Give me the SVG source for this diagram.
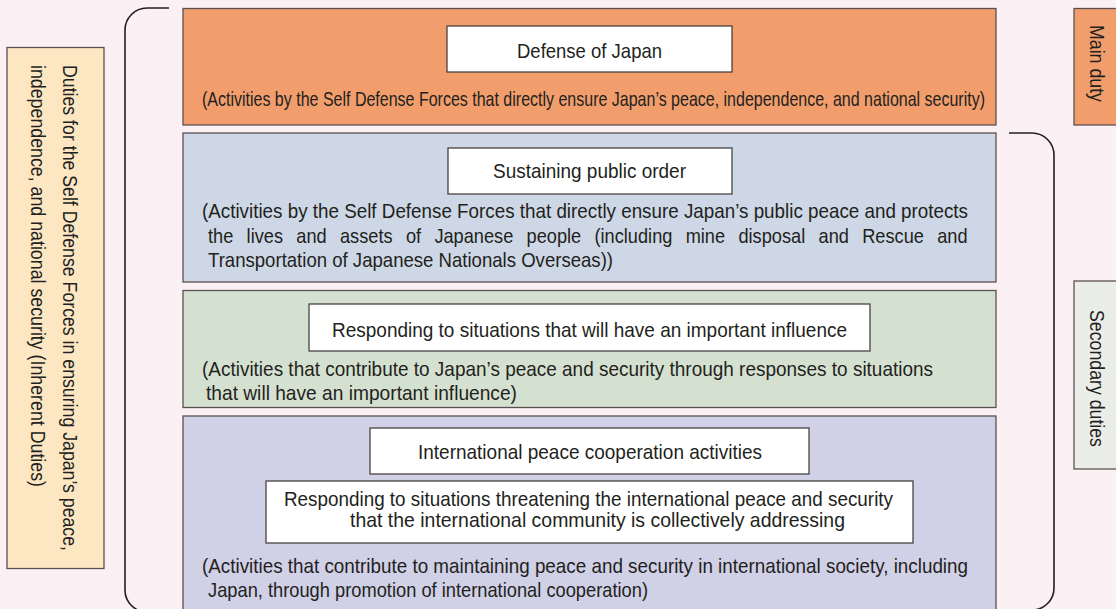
<svg xmlns="http://www.w3.org/2000/svg" width="1116" height="609" viewBox="0 0 1116 609">
<style>
.t{font-family:"Liberation Sans",Arial,sans-serif;font-size:21px;fill:#231f20}
.box{stroke:#5b5152;stroke-width:1.3}
.wb{fill:#ffffff;stroke:#4a4243;stroke-width:1.3}
.br{fill:none;stroke:#231f20;stroke-width:1.6}
</style>
<rect x="0" y="0" width="1116" height="609" fill="#FBF0F4"/>

<g id="inherent-duties">
<rect class="box" x="7" y="47.5" width="97" height="521" fill="#FDE7C3"/>
<text class="t" transform="translate(63,65) rotate(90)" textLength="486" lengthAdjust="spacingAndGlyphs">Duties for the Self Defense Forces in ensuring Japan’s peace,</text>
<text class="t" transform="translate(31,65) rotate(90)" textLength="422" lengthAdjust="spacingAndGlyphs">independence, and national security (Inherent Duties)</text>
</g>

<g id="defense-of-japan">
<rect class="box" x="183" y="8.5" width="813" height="116.5" fill="#F29E6C"/>
<rect class="wb" x="447" y="26" width="285" height="46"/>
<text class="t" x="517" y="58" textLength="145" lengthAdjust="spacingAndGlyphs">Defense of Japan</text>
<text class="t" x="202" y="106" textLength="783" lengthAdjust="spacingAndGlyphs">(Activities by the Self Defense Forces that directly ensure Japan’s peace, independence, and national security)</text>
</g>

<g id="public-order">
<rect class="box" x="183" y="133" width="813" height="149" fill="#CDD7E5"/>
<rect class="wb" x="448" y="148" width="284" height="46"/>
<text class="t" x="493" y="178" textLength="193" lengthAdjust="spacingAndGlyphs">Sustaining public order</text>
<text class="t" x="202" y="218" textLength="766" lengthAdjust="spacingAndGlyphs">(Activities by the Self Defense Forces that directly ensure Japan’s public peace and protects</text>
<text class="t" x="208" y="243" textLength="25.3" lengthAdjust="spacingAndGlyphs">the</text>
<text class="t" x="246.6" y="243" textLength="36.4" lengthAdjust="spacingAndGlyphs">lives</text>
<text class="t" x="296.3" y="243" textLength="30.4" lengthAdjust="spacingAndGlyphs">and</text>
<text class="t" x="340" y="243" textLength="52.6" lengthAdjust="spacingAndGlyphs">assets</text>
<text class="t" x="405.9" y="243" textLength="15.2" lengthAdjust="spacingAndGlyphs">of</text>
<text class="t" x="434.4" y="243" textLength="78.9" lengthAdjust="spacingAndGlyphs">Japanese</text>
<text class="t" x="526.6" y="243" textLength="54.6" lengthAdjust="spacingAndGlyphs">people</text>
<text class="t" x="594.5" y="243" textLength="77.9" lengthAdjust="spacingAndGlyphs">(including</text>
<text class="t" x="685.7" y="243" textLength="39.4" lengthAdjust="spacingAndGlyphs">mine</text>
<text class="t" x="738.4" y="243" textLength="66.8" lengthAdjust="spacingAndGlyphs">disposal</text>
<text class="t" x="818.5" y="243" textLength="30.4" lengthAdjust="spacingAndGlyphs">and</text>
<text class="t" x="862.2" y="243" textLength="61.7" lengthAdjust="spacingAndGlyphs">Rescue</text>
<text class="t" x="937.2" y="243" textLength="30.4" lengthAdjust="spacingAndGlyphs">and</text>
<text class="t" x="208" y="267" textLength="405" lengthAdjust="spacingAndGlyphs">Transportation of Japanese Nationals Overseas))</text>
</g>

<g id="important-influence">
<rect class="box" x="183" y="290.5" width="813" height="117" fill="#D5E1D0"/>
<rect class="wb" x="309" y="304" width="561" height="47"/>
<text class="t" x="332" y="337" textLength="515" lengthAdjust="spacingAndGlyphs">Responding to situations that will have an important influence</text>
<text class="t" x="202" y="376" textLength="731" lengthAdjust="spacingAndGlyphs">(Activities that contribute to Japan’s peace and security through responses to situations</text>
<text class="t" x="206" y="400" textLength="311" lengthAdjust="spacingAndGlyphs">that will have an important influence)</text>
</g>

<g id="international-peace">
<rect class="box" x="183" y="416" width="813" height="200" fill="#D0D0E7"/>
<rect class="wb" x="370" y="428" width="439" height="46"/>
<text class="t" x="418" y="459" textLength="344" lengthAdjust="spacingAndGlyphs">International peace cooperation activities</text>
<rect class="wb" x="266" y="481" width="647" height="62"/>
<text class="t" x="284" y="506" textLength="609" lengthAdjust="spacingAndGlyphs">Responding to situations threatening the international peace and security</text>
<text class="t" x="350" y="527" textLength="495" lengthAdjust="spacingAndGlyphs">that the international community is collectively addressing</text>
<text class="t" x="202" y="573" textLength="766" lengthAdjust="spacingAndGlyphs">(Activities that contribute to maintaining peace and security in international society, including</text>
<text class="t" x="208" y="597" textLength="440" lengthAdjust="spacingAndGlyphs">Japan, through promotion of international cooperation)</text>
</g>

<g id="main-duty">
<rect class="box" x="1074" y="8.5" width="50" height="116.5" fill="#F29E6C"/>
<text class="t" transform="translate(1090,25) rotate(90)" textLength="77" lengthAdjust="spacingAndGlyphs">Main duty</text>
</g>

<g id="secondary-duties">
<rect class="box" x="1074" y="281" width="50" height="188" fill="#EBEDE9"/>
<text class="t" transform="translate(1090,310) rotate(90)" textLength="137" lengthAdjust="spacingAndGlyphs">Secondary duties</text>
</g>

<g id="connectors">
<path class="br" d="M169 8 H147 A22 22 0 0 0 125 30 V590 A22 22 0 0 0 147 612"/>
<path class="br" d="M1009 133 H1032 A22 22 0 0 1 1054 155 V588 A22 22 0 0 1 1032 610"/>
</g>
</svg>
